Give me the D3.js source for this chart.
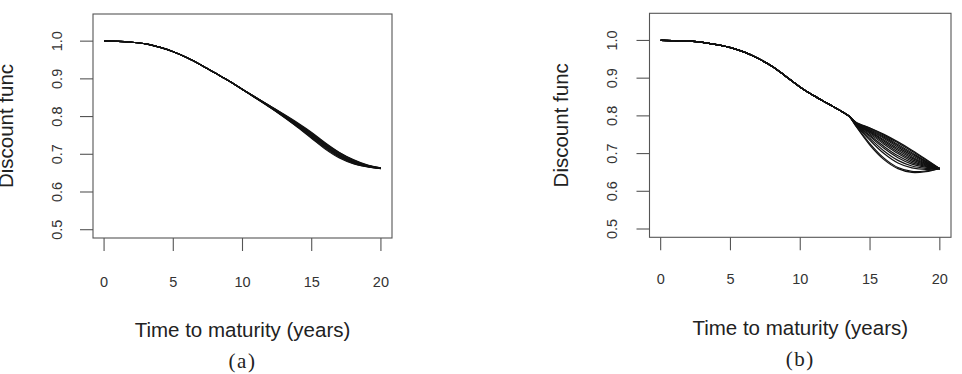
<!DOCTYPE html>
<html>
<head>
<meta charset="utf-8">
<style>
  body { margin: 0; background: #fff; }
  svg { display: block; }
  .frame { fill: none; stroke: #555; stroke-width: 1.1px; }
  .tick line { stroke: #555; stroke-width: 1.1px; }
  .ticklab { font-family: "Liberation Sans", Arial, sans-serif; font-size: 14.5px; fill: #333; }
  .title { font-family: "Liberation Sans", Arial, sans-serif; font-size: 20.5px; fill: #222; }
  .caption { font-family: "Liberation Serif", "DejaVu Serif", serif; font-size: 21px; letter-spacing: 1.5px; fill: #222; }
  .curve { fill: none; stroke: #111; stroke-width: 1.2px; }
</style>
</head>
<body>
<script src="https://cdn.jsdelivr.net/npm/d3@7"></script>
<script>
// --- data ---
var xTicks = [0, 5, 10, 15, 20];
var yTicks = [0.5, 0.6, 0.7, 0.8, 0.9, 1.0];

// panel (a): common start t = 0..10, then one tail per curve for t = 11..20
var timesA = [0, 1, 2, 3, 4, 5, 6, 7, 8, 9, 10, 11, 12, 13, 14, 15, 16, 17, 18, 19, 20];
var headA = [1.000, 0.9995, 0.997, 0.993, 0.984, 0.972, 0.956, 0.937, 0.916, 0.895, 0.872];
var tailsA = [
  [0.848, 0.824, 0.798, 0.771, 0.742, 0.713, 0.690, 0.675, 0.667, 0.662],
  [0.848, 0.824, 0.799, 0.772, 0.744, 0.715, 0.692, 0.676, 0.667, 0.662],
  [0.848, 0.825, 0.800, 0.774, 0.746, 0.717, 0.694, 0.678, 0.668, 0.663],
  [0.849, 0.825, 0.801, 0.775, 0.748, 0.719, 0.695, 0.679, 0.668, 0.663],
  [0.849, 0.826, 0.802, 0.776, 0.749, 0.720, 0.697, 0.680, 0.669, 0.663],
  [0.849, 0.826, 0.802, 0.777, 0.751, 0.722, 0.698, 0.681, 0.669, 0.663],
  [0.849, 0.827, 0.803, 0.779, 0.753, 0.724, 0.700, 0.682, 0.670, 0.663],
  [0.850, 0.827, 0.804, 0.780, 0.755, 0.726, 0.702, 0.684, 0.671, 0.664],
  [0.850, 0.828, 0.805, 0.781, 0.756, 0.728, 0.704, 0.685, 0.671, 0.664],
  [0.850, 0.828, 0.806, 0.783, 0.758, 0.730, 0.705, 0.686, 0.672, 0.664]
];

// panel (b): common trunk t = 0..13.5, then tails for t = 14..20
var timesB = [0, 1, 2, 3, 4, 5, 6, 7, 8, 9, 10, 11, 12, 13, 13.5, 14, 15, 16, 17, 18, 19, 20];
var headB = [1.000, 0.9995, 0.998, 0.995, 0.989, 0.981, 0.969, 0.952, 0.931, 0.904, 0.876, 0.853, 0.832, 0.811, 0.799];
var tailsB = [
  [0.772, 0.722, 0.684, 0.660, 0.650, 0.652, 0.660],
  [0.773, 0.726, 0.688, 0.663, 0.653, 0.654, 0.660],
  [0.775, 0.735, 0.700, 0.675, 0.662, 0.658, 0.660],
  [0.776, 0.740, 0.707, 0.682, 0.667, 0.661, 0.660],
  [0.777, 0.745, 0.714, 0.689, 0.672, 0.664, 0.660],
  [0.778, 0.748, 0.719, 0.694, 0.676, 0.666, 0.660],
  [0.779, 0.752, 0.725, 0.700, 0.680, 0.668, 0.660],
  [0.779, 0.755, 0.729, 0.704, 0.684, 0.670, 0.660],
  [0.780, 0.757, 0.733, 0.709, 0.688, 0.672, 0.660],
  [0.780, 0.759, 0.736, 0.713, 0.691, 0.674, 0.660],
  [0.781, 0.761, 0.740, 0.717, 0.695, 0.676, 0.660],
  [0.781, 0.763, 0.743, 0.721, 0.699, 0.678, 0.660],
  [0.782, 0.765, 0.746, 0.724, 0.702, 0.680, 0.660],
  [0.782, 0.767, 0.749, 0.728, 0.706, 0.683, 0.660],
  [0.783, 0.768, 0.751, 0.731, 0.709, 0.685, 0.660]
];

var xLabel = "Time to maturity (years)";
var yLabel = "Discount func";

var width = 962, height = 374;

var svg = d3.select("body").append("svg")
    .attr("width", width)
    .attr("height", height);

var panels = [
  { times: timesA, head: headA, tails: tailsA, caption: "(a)",
    box: [93, 392, 14, 238], yTickX: 62, yTitleX: 13, xTickY: 286.5, xTitleY: 336.5, capY: 368 },
  { times: timesB, head: headB, tails: tailsB, caption: "(b)",
    box: [649.5, 951, 13.3, 237.3], yTickX: 617, yTitleX: 568, xTickY: 284, xTitleY: 335, capY: 366 }
];

panels.forEach(drawPanel);

function drawPanel(p) {
  var x0 = p.box[0], x1 = p.box[1], y0 = p.box[2], y1 = p.box[3];

  // R-style limits: xlim 0..20 and ylim 0.5..1.05, each padded by 4%
  var x = d3.scaleLinear().domain([-0.8, 20.8]).range([x0, x1]);
  var y = d3.scaleLinear().domain([0.478, 1.072]).range([y1, y0]);

  var g = svg.append("g");

  var line = d3.line()
      .x(function(d) { return x(d[0]); })
      .y(function(d) { return y(d[1]); })
      .curve(d3.curveCatmullRom.alpha(0.5));

  p.tails.forEach(function(tail) {
    var vals = p.head.concat(tail);
    g.append("path")
        .attr("class", "curve")
        .attr("d", line(p.times.map(function(t, i) { return [t, vals[i]]; })));
  });

  g.append("rect")
      .attr("class", "frame")
      .attr("x", x0).attr("y", y0)
      .attr("width", x1 - x0).attr("height", y1 - y0);

  // x ticks
  var xt = g.selectAll(".xt").data(xTicks).enter().append("g").attr("class", "tick");
  xt.append("line")
      .attr("x1", function(d) { return x(d); }).attr("x2", function(d) { return x(d); })
      .attr("y1", y1).attr("y2", y1 + 13);
  xt.append("text")
      .attr("class", "ticklab")
      .attr("x", function(d) { return x(d); })
      .attr("y", p.xTickY)
      .attr("text-anchor", "middle")
      .text(function(d) { return d; });

  // y ticks, labels turned like R's las = 0
  var yt = g.selectAll(".yt").data(yTicks).enter().append("g").attr("class", "tick");
  yt.append("line")
      .attr("x1", x0 - 13).attr("x2", x0)
      .attr("y1", function(d) { return y(d); }).attr("y2", function(d) { return y(d); });
  yt.append("text")
      .attr("class", "ticklab")
      .attr("transform", function(d) { return "translate(" + p.yTickX + "," + y(d) + ") rotate(-90)"; })
      .attr("text-anchor", "middle")
      .text(function(d) { return d3.format(".1f")(d); });

  g.append("text")
      .attr("class", "title")
      .attr("x", (x0 + x1) / 2)
      .attr("y", p.xTitleY)
      .attr("text-anchor", "middle")
      .text(xLabel);

  g.append("text")
      .attr("class", "title")
      .attr("transform", "translate(" + p.yTitleX + "," + (y0 + y1) / 2 + ") rotate(-90)")
      .attr("text-anchor", "middle")
      .text(yLabel);

  g.append("text")
      .attr("class", "caption")
      .attr("x", (x0 + x1) / 2)
      .attr("y", p.capY)
      .attr("text-anchor", "middle")
      .text(p.caption);
}
</script>
</body>
</html>
